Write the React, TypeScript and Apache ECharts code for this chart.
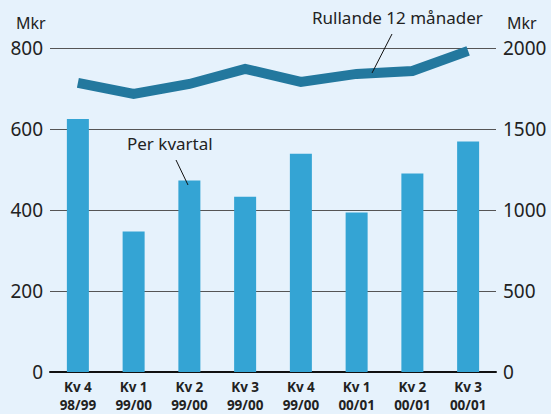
import React, { useEffect, useRef } from "react";
import * as echarts from "echarts";

const categories = [
  "Kv 4\n98/99",
  "Kv 1\n99/00",
  "Kv 2\n99/00",
  "Kv 3\n99/00",
  "Kv 4\n99/00",
  "Kv 1\n00/01",
  "Kv 2\n00/01",
  "Kv 3\n00/01",
];
const perKvartal = [625, 347, 473, 433, 539, 394, 490, 569];
const rullande12 = [1785, 1717, 1778, 1871, 1791, 1840, 1858, 1982];
const leftTicks = { min: 0, max: 800, interval: 200 };
const rightTicks = { min: 0, max: 2000, interval: 500 };

export default function App() {
  const ref = useRef<HTMLDivElement>(null);
  useEffect(() => {
    if (!ref.current) return;
    const chart = echarts.init(ref.current, null, { renderer: "svg" });
    const font = "'Noto Sans', sans-serif";
    chart.setOption({
      animation: false,
      backgroundColor: "#e6f2fc",
      textStyle: { fontFamily: font },
      grid: {
        left: 50,
        right: 55,
        top: 48,
        bottom: 42,
        containLabel: false,
        outerBoundsMode: "none",
      },
      xAxis: {
        type: "category",
        data: categories,
        axisLine: { show: true, lineStyle: { color: "#111", width: 2 } },
        axisTick: { show: false },
        axisLabel: {
          margin: 6,
          color: "#222",
          fontWeight: "bold",
          fontSize: 13.5,
          lineHeight: 18,
          fontFamily: font,
        },
      },
      yAxis: [
        {
          type: "value",
          min: leftTicks.min,
          max: leftTicks.max,
          interval: leftTicks.interval,
          axisLine: { show: false },
          axisTick: { show: false },
          splitLine: { show: true, lineStyle: { color: "#555", width: 1 } },
          axisLabel: { color: "#222", fontSize: 19, margin: 7, fontFamily: font },
        },
        {
          type: "value",
          min: rightTicks.min,
          max: rightTicks.max,
          interval: rightTicks.interval,
          axisLine: { show: false },
          axisTick: { show: false },
          splitLine: { show: false },
          axisLabel: {
            color: "#222",
            fontSize: 19,
            margin: 7,
            fontFamily: font,
            formatter: (v: number) => String(v),
          },
        },
      ],
      series: [
        {
          type: "bar",
          data: perKvartal,
          yAxisIndex: 0,
          barWidth: 22,
          itemStyle: { color: "#34a4d4" },
          z: 2,
        },
        {
          type: "line",
          data: rullande12,
          yAxisIndex: 1,
          symbol: "none",
          lineStyle: { color: "#23789e", width: 10, cap: "butt", join: "miter" },
          z: 3,
        },
      ],
      graphic: [
        {
          type: "text",
          left: 16,
          top: 15,
          style: { text: "Mkr", fontSize: 16, fill: "#222", fontFamily: font },
        },
        {
          type: "text",
          left: 507,
          top: 15,
          style: { text: "Mkr", fontSize: 16, fill: "#222", fontFamily: font },
        },
        {
          type: "text",
          left: 312,
          top: 9,
          style: { text: "Rullande 12 månader", fontSize: 17, fill: "#222", fontFamily: font },
        },
        {
          type: "line",
          shape: { x1: 392, y1: 34, x2: 372, y2: 73 },
          style: { stroke: "#111", lineWidth: 1 },
          z: 10,
        },
        {
          type: "text",
          left: 127,
          top: 135,
          style: { text: "Per kvartal", fontSize: 17, fill: "#222", fontFamily: font },
        },
        {
          type: "line",
          shape: { x1: 176, y1: 160, x2: 188, y2: 185 },
          style: { stroke: "#111", lineWidth: 1 },
          z: 10,
        },
      ],
    });
    return () => chart.dispose();
  }, []);
  return (
    <div
      ref={ref}
      style={{ position: "absolute", left: 0, top: 0, width: 551, height: 414 }}
    />
  );
}
